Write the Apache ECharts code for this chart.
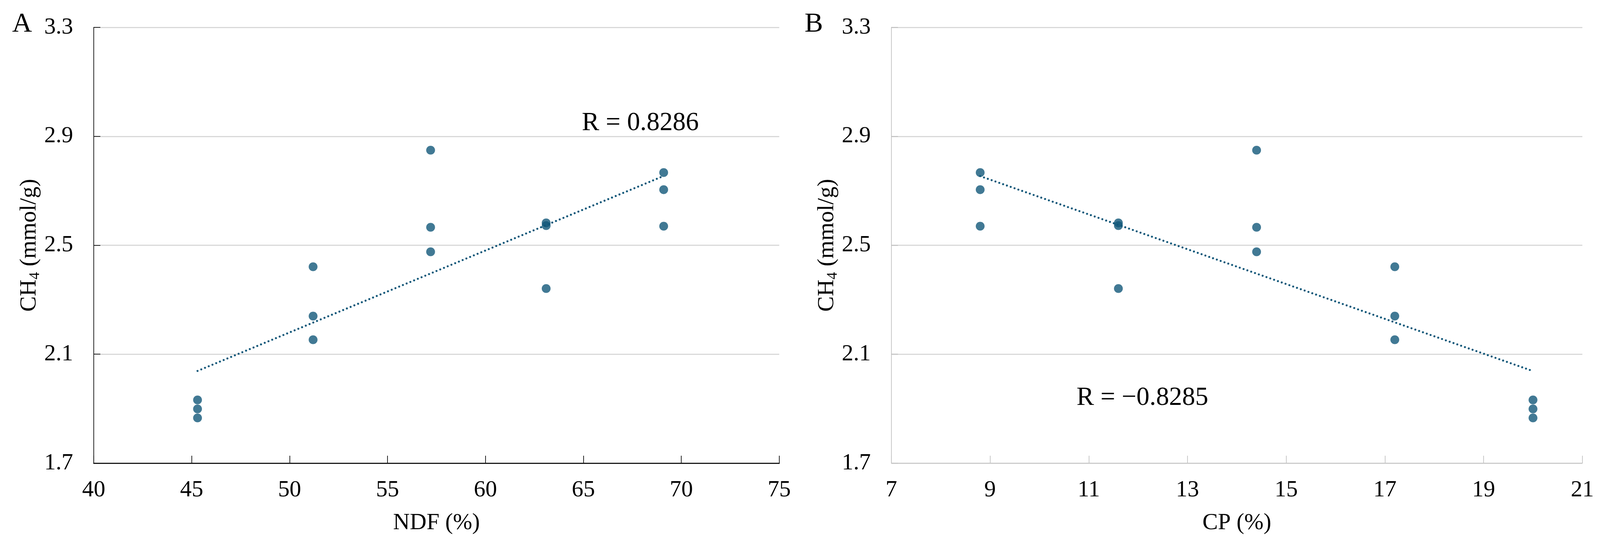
<!DOCTYPE html>
<html>
<head>
<meta charset="utf-8">
<script src="https://cdn.jsdelivr.net/npm/echarts@6/dist/echarts.min.js"></script>
<style>
html,body{margin:0;padding:0;background:#fff;overflow:hidden;width:100%;height:100%;}
#chart{width:100vw;height:100vh;}
</style>
</head>
<body>
<div id="chart"></div>
<script>
// ---- data ----
const ndf = [45.3, 51.2, 57.2, 63.1, 69.1];          // NDF (%) per diet
const cp  = [20.0, 17.2, 14.4, 11.6, 8.8];           // CP (%) per diet
const ch4Rep1 = [1.932, 2.421, 2.849, 2.582, 2.767]; // CH4 (mmol/g), replicate 1
const ch4Rep2 = [1.899, 2.240, 2.566, 2.572, 2.704]; // replicate 2
const ch4Rep3 = [1.866, 2.153, 2.476, 2.341, 2.570]; // replicate 3
const yTicks = [1.7, 2.1, 2.5, 2.9, 3.3];
const ndfTicks = [40, 45, 50, 55, 60, 65, 70, 75];
const cpTicks = [7, 9, 11, 13, 15, 17, 19, 21];
const rLabelA = 'R = 0.8286';
const rLabelB = 'R = \u22120.8285';

const FONT = '"Liberation Serif", "Times New Roman", serif';
const COLOR = '#115779';

// design is laid out on a 4353 x 1397 canvas, scaled to the real viewport
const el = document.getElementById('chart');
const W = el.clientWidth || window.innerWidth, H = el.clientHeight || window.innerHeight;
const sx = W / 4353, sy = H / 1397, s = Math.min(sx, sy);
const X = v => v * sx, Y = v => v * sy, F = v => v * s;

function points(xs) {
  const out = [];
  [ch4Rep1, ch4Rep2, ch4Rep3].forEach(rep => rep.forEach((v, i) => out.push([xs[i], v])));
  return out;
}
function trend(pts) {
  const n = pts.length;
  let sxv = 0, syv = 0;
  pts.forEach(p => { sxv += p[0]; syv += p[1]; });
  const mx = sxv / n, my = syv / n;
  let sxy = 0, sxx = 0;
  pts.forEach(p => { sxy += (p[0] - mx) * (p[1] - my); sxx += (p[0] - mx) ** 2; });
  const b = sxy / sxx, a = my - b * mx;
  const xs = pts.map(p => p[0]);
  const x0 = Math.min(...xs), x1 = Math.max(...xs);
  return [[x0, a + b * x0], [x1, a + b * x1]];
}
const ptsA = points(ndf), ptsB = points(cp);

function xAxis(idx, name, ticks, dark) {
  const lc = dark ? '#1a1a1a' : '#c6c6c6';
  return {
    type: 'value', gridIndex: idx, min: ticks[0], max: ticks[ticks.length - 1], interval: ticks[1] - ticks[0],
    name, nameLocation: 'middle', nameGap: Y(124),
    nameTextStyle: { fontFamily: FONT, fontSize: F(63), color: '#000' },
    axisLine: { show: true, onZero: false, lineStyle: { color: lc, width: dark ? F(3) : F(2) } },
    axisTick: { show: true, inside: true, length: Y(19), lineStyle: { color: lc, width: F(2) } },
    axisLabel: { fontFamily: FONT, fontSize: F(63), color: '#000', margin: Y(40) },
    splitLine: { show: false }
  };
}
function yAxis(idx, dark) {
  const lc = dark ? '#1a1a1a' : '#c6c6c6';
  return {
    type: 'value', gridIndex: idx, min: yTicks[0], max: yTicks[yTicks.length - 1],
    interval: +(yTicks[1] - yTicks[0]).toFixed(2),
    name: '{a|CH}{s|4}{a| (mmol/g)}', nameLocation: 'middle', nameGap: X(135), nameRotate: 90,
    nameTextStyle: {
      fontFamily: FONT, fontSize: F(63), color: '#000',
      rich: {
        a: { fontFamily: FONT, fontSize: F(63), lineHeight: F(72), color: '#000' },
        s: { fontFamily: FONT, fontSize: F(40), lineHeight: F(34), verticalAlign: 'bottom', color: '#000' }
      }
    },
    axisLine: { show: true, lineStyle: { color: lc, width: F(2) } },
    axisTick: { show: true, inside: true, length: X(18), lineStyle: { color: dark ? '#1a1a1a' : '#bdbdbd', width: F(2) } },
    axisLabel: { fontFamily: FONT, fontSize: F(63), color: '#000', margin: X(56), formatter: v => v.toFixed(1) },
    splitLine: { show: true, lineStyle: { color: '#d9d9d9', width: F(3) } }
  };
}

const chart = echarts.init(el, null, { renderer: 'canvas' });
chart.setOption({
  backgroundColor: '#fff',
  animation: false,
  grid: [
    { left: X(255), right: X(4353 - 2120), top: Y(70), bottom: Y(1397 - 1185) },
    { left: X(2425), right: X(4353 - 4305), top: Y(70), bottom: Y(1397 - 1185) }
  ],
  xAxis: [xAxis(0, 'NDF (%)', ndfTicks, true), xAxis(1, 'CP (%)', cpTicks, false)],
  yAxis: [yAxis(0, true), yAxis(1, false)],
  series: [
    { type: 'line', xAxisIndex: 0, yAxisIndex: 0, data: trend(ptsA), symbol: 'none', z: 2,
      lineStyle: { color: COLOR, width: F(5.5), type: [0.01, F(11)], cap: 'round' } },
    { type: 'scatter', xAxisIndex: 0, yAxisIndex: 0, data: ptsA, symbolSize: F(24), z: 3,
      itemStyle: { color: COLOR } },
    { type: 'line', xAxisIndex: 1, yAxisIndex: 1, data: trend(ptsB), symbol: 'none', z: 2,
      lineStyle: { color: COLOR, width: F(5.5), type: [0.01, F(11)], cap: 'round' } },
    { type: 'scatter', xAxisIndex: 1, yAxisIndex: 1, data: ptsB, symbolSize: F(24), z: 3,
      itemStyle: { color: COLOR } }
  ],
  graphic: [
    { type: 'text', x: X(33), y: Y(62), style: { text: 'A', font: F(75) + 'px ' + FONT, fill: '#000', verticalAlign: 'middle' } },
    { type: 'text', x: X(2189), y: Y(62), style: { text: 'B', font: F(75) + 'px ' + FONT, fill: '#000', verticalAlign: 'middle' } },
    { type: 'text', x: X(1583), y: Y(315), style: { text: rLabelA, font: F(71) + 'px ' + FONT, fill: '#000', verticalAlign: 'middle' } },
    { type: 'text', x: X(2929), y: Y(1018), style: { text: rLabelB, font: F(71) + 'px ' + FONT, fill: '#000', verticalAlign: 'middle' } }
  ]
});
</script>
</body>
</html>
